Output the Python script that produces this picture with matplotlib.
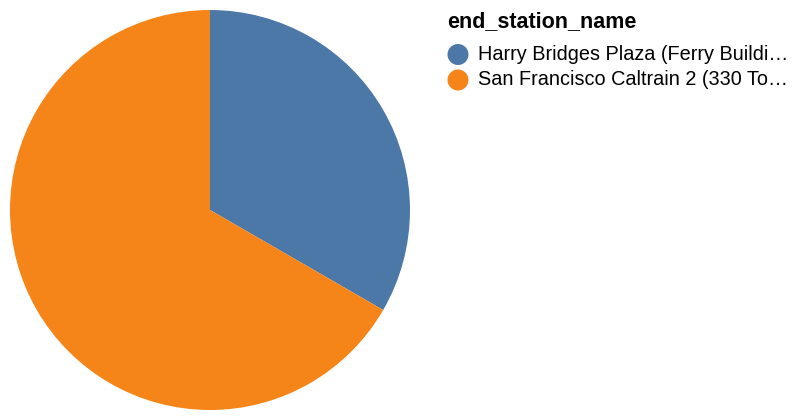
import matplotlib
matplotlib.use("Agg")
import matplotlib.pyplot as plt
from matplotlib.patches import Circle

categories = ["Harry Bridges Plaza (Ferry Building)", "San Francisco Caltrain 2 (330 Townsend)"]
display_labels = ["Harry Bridges Plaza (Ferry Buildi\u2026", "San Francisco Caltrain 2 (330 To\u2026"]
values = [1, 2]
colors = ["#4c78a8", "#f58518"]
legend_title = "end_station_name"

plt.rcParams['font.family'] = ['Liberation Sans', 'DejaVu Sans']

W, H = 808, 420
fig = plt.figure(figsize=(W / 100, H / 100), dpi=100)
ax = fig.add_axes([10 / W, 10 / H, 400 / W, 400 / H])
ax.pie(values, colors=colors, startangle=90, counterclock=False,
       wedgeprops=dict(linewidth=0), radius=1.0)
ax.set_xlim(-1, 1)
ax.set_ylim(-1, 1)
ax.set_aspect('equal')
ax.axis('off')

# legend drawn in pixel coordinates (y from top)
def fx(px):
    return px / W

def fy(py):
    return 1 - py / H

fig.text(fx(447), fy(27), legend_title, fontsize=15.5, fontweight='bold',
         ha='left', va='baseline', color='black')
for i, (lab, c) in enumerate(zip(display_labels, colors)):
    yc = 54.5 + i * 25.5
    circ = Circle((458, H - yc), 10.5, transform=None, facecolor=c, edgecolor='none')
    fig.add_artist(circ)
    fig.text(fx(478), fy(yc + 5), lab, fontsize=14.3, ha='left', va='baseline', color='black')

fig.savefig("out.png", dpi=100)
